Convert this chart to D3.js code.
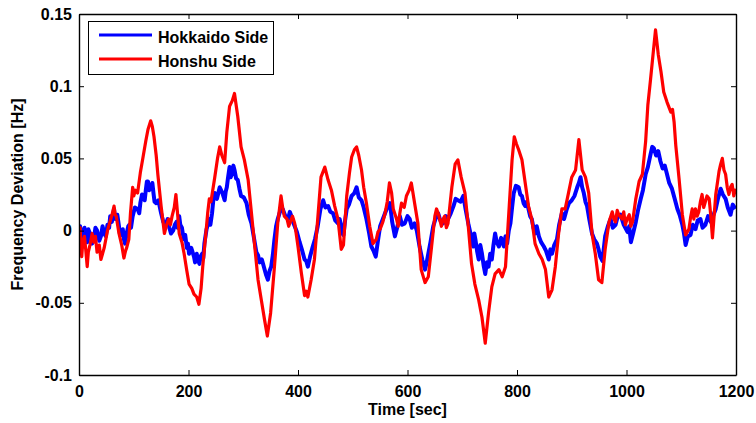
<!DOCTYPE html>
<html>
<head>
<meta charset="utf-8">
<script src="https://cdn.jsdelivr.net/npm/d3@7"></script>
<style>
  html, body { margin: 0; padding: 0; background: #fff; }
  svg { display: block; }
  text { font-family: "Liberation Sans", Arial, sans-serif; font-weight: bold; font-size: 16px; fill: #000; }
</style>
</head>
<body>
<svg id="chart" width="756" height="423"></svg>
<script>
// Time axis ticks and frequency axis ticks
const xTicks = [0, 200, 400, 600, 800, 1000, 1200];
const yTicks = [-0.1, -0.05, 0, 0.05, 0.1, 0.15];

// Hokkaido side: [time sec, frequency deviation Hz]
const hokkaidoSamples = [[0,-0.003],[2,0.003],[5,-0.010],[7,-0.002],[10,0.002],[12,-0.006],[15,-0.008],[17,0.001],[20,-0.002],[24,-0.009],[27,-0.006],[30,0.002],[33,0.000],[37,-0.007],[40,-0.004],[43,0.003],[46,-0.002],[49,-0.004],[52,0.004],[55,0.002],[57,0.010],[60,0.006],[64,0.015],[66,0.008],[68,0.008],[70,0.011],[73,0.003],[75,-0.003],[78,-0.003],[80,0.001],[82,-0.006],[84,-0.009],[87,-0.002],[90,0.003],[92,0.004],[95,0.002],[98,0.010],[102,0.016],[107,0.015],[110,0.012],[112,0.019],[115,0.025],[117,0.024],[120,0.021],[122,0.028],[124,0.034],[126,0.034],[128,0.028],[131,0.030],[134,0.033],[136,0.026],[138,0.020],[141,0.019],[145,0.021],[150,0.012],[154,0.006],[159,0.005],[162,0.008],[165,0.002],[168,-0.002],[172,0.000],[175,0.004],[178,0.006],[180,0.002],[183,0.010],[185,0.004],[188,0.002],[190,-0.003],[192,-0.006],[194,-0.003],[197,-0.012],[199,-0.009],[201,-0.016],[205,-0.012],[210,-0.018],[212,-0.022],[215,-0.016],[217,-0.020],[220,-0.023],[222,-0.018],[225,-0.016],[227,-0.019],[229,-0.009],[233,0.001],[238,0.008],[240,0.004],[243,0.012],[245,0.020],[248,0.026],[252,0.022],[257,0.030],[262,0.026],[266,0.021],[268,0.027],[270,0.030],[272,0.036],[275,0.044],[277,0.037],[280,0.040],[282,0.045],[284,0.042],[287,0.036],[290,0.035],[293,0.029],[296,0.024],[301,0.023],[306,0.019],[310,0.011],[315,0.005],[320,-0.006],[324,-0.015],[327,-0.017],[330,-0.022],[334,-0.020],[339,-0.027],[342,-0.031],[345,-0.034],[348,-0.028],[351,-0.025],[354,-0.017],[357,-0.006],[360,0.003],[363,0.008],[367,0.013],[372,0.015],[377,0.010],[382,0.008],[385,0.013],[388,0.010],[391,0.006],[394,0.003],[398,-0.001],[403,-0.008],[407,-0.013],[412,-0.020],[415,-0.021],[418,-0.025],[422,-0.018],[427,-0.011],[431,-0.006],[436,0.003],[441,0.015],[446,0.021],[450,0.016],[455,0.017],[459,0.013],[464,0.012],[468,0.007],[473,0.005],[476,0.008],[479,0.003],[481,-0.002],[483,-0.003],[486,0.007],[489,0.015],[493,0.018],[498,0.024],[503,0.026],[507,0.030],[511,0.023],[516,0.021],[520,0.016],[525,0.008],[530,-0.002],[534,-0.011],[538,-0.014],[542,-0.018],[546,-0.007],[550,0.003],[555,0.008],[559,0.012],[563,0.016],[568,0.019],[572,0.006],[577,-0.004],[581,0.002],[586,0.010],[590,0.004],[595,0.005],[600,0.010],[604,0.008],[608,0.002],[613,0.005],[617,0.000],[622,-0.011],[627,-0.020],[632,-0.027],[635,-0.022],[638,-0.016],[642,-0.008],[647,0.003],[651,0.008],[656,0.012],[660,0.007],[665,0.005],[670,0.010],[674,0.008],[679,0.012],[684,0.017],[688,0.022],[692,0.021],[697,0.020],[702,0.024],[706,0.015],[711,0.005],[715,-0.002],[720,-0.011],[722,-0.002],[724,-0.006],[727,-0.014],[730,-0.020],[733,-0.010],[736,-0.016],[739,-0.024],[742,-0.030],[745,-0.022],[748,-0.025],[751,-0.016],[754,-0.020],[757,-0.010],[760,-0.002],[763,-0.008],[767,-0.011],[771,-0.005],[776,-0.011],[779,-0.004],[782,-0.009],[785,0.000],[788,0.005],[791,0.016],[794,0.026],[798,0.031],[803,0.030],[806,0.025],[809,0.024],[812,0.019],[815,0.017],[818,0.020],[821,0.015],[824,0.010],[827,0.008],[830,0.002],[833,-0.002],[836,0.003],[840,-0.004],[844,-0.008],[849,-0.011],[853,-0.014],[858,-0.020],[861,-0.013],[864,-0.016],[868,-0.010],[873,-0.006],[877,0.004],[882,0.012],[886,0.008],[891,0.015],[895,0.019],[900,0.021],[905,0.024],[910,0.030],[913,0.033],[916,0.037],[919,0.030],[922,0.026],[925,0.020],[928,0.017],[932,0.008],[937,-0.002],[941,-0.006],[946,-0.009],[949,-0.013],[952,-0.018],[956,-0.021],[961,-0.004],[966,0.003],[971,0.008],[975,0.002],[980,0.004],[984,0.010],[989,0.011],[995,0.004],[1002,-0.001],[1005,0.003],[1008,-0.008],[1012,-0.002],[1017,0.006],[1021,0.014],[1026,0.022],[1030,0.028],[1035,0.039],[1039,0.044],[1044,0.053],[1047,0.058],[1050,0.057],[1054,0.052],[1058,0.055],[1062,0.048],[1066,0.043],[1070,0.045],[1074,0.039],[1078,0.033],[1083,0.029],[1088,0.022],[1093,0.015],[1097,0.011],[1102,0.004],[1105,-0.002],[1108,-0.010],[1112,-0.004],[1117,-0.003],[1121,0.004],[1126,0.001],[1130,0.007],[1135,0.008],[1139,0.002],[1144,0.004],[1149,0.010],[1154,0.006],[1158,0.010],[1163,0.015],[1167,0.022],[1172,0.029],[1176,0.025],[1181,0.022],[1185,0.016],[1190,0.011],[1194,0.018],[1199,0.015]];

// Honshu side: [time sec, frequency deviation Hz]
const honshuSamples = [[0,-0.005],[2,0.002],[5,-0.018],[7,-0.008],[10,-0.004],[12,-0.012],[15,-0.025],[17,-0.015],[20,-0.010],[24,-0.002],[27,-0.008],[30,-0.004],[33,-0.015],[37,-0.010],[40,-0.020],[43,-0.016],[46,-0.012],[52,0.000],[55,0.004],[58,0.008],[61,0.012],[64,0.017],[66,0.011],[68,0.010],[73,-0.002],[78,-0.010],[82,-0.019],[85,-0.014],[87,-0.012],[91,-0.006],[94,0.012],[98,0.030],[100,0.024],[103,0.028],[107,0.026],[112,0.040],[117,0.051],[122,0.062],[126,0.070],[131,0.076],[134,0.072],[137,0.065],[141,0.052],[144,0.039],[150,0.017],[156,-0.002],[160,0.004],[164,0.008],[167,0.004],[170,0.010],[174,0.016],[177,0.025],[180,0.012],[183,-0.002],[188,-0.008],[192,-0.016],[197,-0.028],[201,-0.037],[206,-0.040],[210,-0.044],[215,-0.046],[219,-0.051],[223,-0.040],[226,-0.025],[231,-0.005],[235,0.012],[238,0.022],[241,0.020],[248,0.037],[253,0.050],[257,0.058],[261,0.052],[266,0.047],[270,0.068],[275,0.086],[280,0.090],[284,0.095],[290,0.079],[296,0.058],[302,0.049],[309,0.035],[315,0.012],[321,-0.011],[327,-0.034],[333,-0.048],[339,-0.062],[344,-0.073],[350,-0.057],[357,-0.025],[363,0.005],[369,0.024],[372,0.016],[375,0.010],[380,0.008],[383,0.003],[385,0.005],[390,0.010],[394,0.005],[400,-0.011],[406,-0.029],[412,-0.045],[415,-0.042],[418,-0.046],[424,-0.034],[430,-0.020],[436,0.008],[442,0.037],[449,0.044],[455,0.035],[461,0.028],[467,0.017],[473,0.008],[479,-0.013],[483,-0.010],[489,0.024],[494,0.040],[498,0.051],[503,0.056],[507,0.058],[511,0.052],[516,0.042],[520,0.030],[525,0.019],[531,0.003],[537,-0.009],[543,-0.006],[546,-0.001],[550,0.001],[555,0.006],[559,0.012],[563,0.020],[567,0.033],[571,0.026],[574,0.015],[580,0.008],[583,0.003],[586,0.012],[589,0.019],[594,0.016],[598,0.024],[603,0.028],[607,0.033],[610,0.026],[613,0.019],[619,0.005],[625,-0.027],[632,-0.036],[638,-0.032],[644,-0.011],[650,0.010],[653,0.015],[656,0.012],[662,0.003],[665,0.008],[668,0.010],[671,0.002],[674,0.005],[681,0.030],[687,0.046],[692,0.049],[698,0.037],[705,0.026],[711,0.003],[717,-0.023],[723,-0.037],[730,-0.048],[736,-0.060],[742,-0.078],[748,-0.057],[754,-0.039],[760,-0.030],[767,-0.027],[773,-0.032],[779,-0.025],[785,0.012],[791,0.049],[795,0.065],[799,0.060],[803,0.056],[809,0.049],[815,0.033],[821,0.017],[827,0.008],[833,-0.009],[840,-0.016],[846,-0.020],[852,-0.027],[858,-0.046],[864,-0.041],[870,-0.025],[876,-0.002],[882,0.015],[888,0.015],[894,0.026],[900,0.037],[907,0.042],[913,0.063],[919,0.042],[925,0.037],[931,0.026],[937,-0.002],[943,-0.016],[949,-0.034],[955,-0.036],[961,-0.013],[968,0.006],[974,0.013],[977,0.008],[980,0.006],[983,0.014],[986,0.011],[992,0.008],[995,0.013],[998,0.004],[1001,0.008],[1005,0.011],[1008,0.003],[1011,0.006],[1017,0.022],[1023,0.034],[1029,0.039],[1035,0.062],[1039,0.087],[1044,0.105],[1049,0.124],[1053,0.139],[1058,0.122],[1063,0.110],[1068,0.096],[1074,0.089],[1081,0.082],[1084,0.084],[1087,0.075],[1090,0.059],[1096,0.036],[1102,0.011],[1108,-0.003],[1114,0.001],[1117,0.009],[1120,0.015],[1123,0.008],[1126,0.015],[1129,0.010],[1132,0.013],[1135,0.020],[1138,0.025],[1141,0.016],[1144,0.020],[1147,0.024],[1151,0.022],[1154,0.010],[1157,-0.005],[1160,0.010],[1163,0.025],[1166,0.033],[1169,0.041],[1172,0.046],[1175,0.050],[1178,0.042],[1181,0.039],[1184,0.030],[1187,0.025],[1190,0.030],[1193,0.032],[1196,0.024],[1199,0.029]];

const seriesNames = ["Hokkaido Side", "Honshu Side"];
const seriesColors = ["#0000ff", "#ff0000"];

const svg = d3.select("#chart");
const plot = { left: 79, right: 736, top: 14, bottom: 375 };

const x = d3.scaleLinear().domain([0, 1200]).range([plot.left, plot.right]);
const y = d3.scaleLinear().domain([-0.1, 0.15]).range([plot.bottom, plot.top]);

const series = [
  { name: seriesNames[0], color: seriesColors[0], width: 4, points: hokkaidoSamples },
  { name: seriesNames[1], color: seriesColors[1], width: 3.2, points: honshuSamples }
];

svg.append("defs").append("clipPath").attr("id", "plot-clip")
  .append("rect").attr("x", plot.left).attr("y", plot.top)
  .attr("width", plot.right - plot.left).attr("height", plot.bottom - plot.top);

const line = d3.line().x(d => x(d[0])).y(d => y(d[1]));

svg.append("g").attr("clip-path", "url(#plot-clip)")
  .selectAll("path").data(series).join("path")
  .attr("d", d => line(d.points))
  .attr("fill", "none")
  .attr("stroke", d => d.color)
  .attr("stroke-width", d => d.width)
  .attr("stroke-linejoin", "round");

// Axes with inward ticks on all four sides
const fmt = d => String(d);
function styleAxis(g) {
  g.attr("font-family", null).attr("font-size", null);
  g.select(".domain").attr("stroke", "#000").attr("stroke-width", 1.4);
  g.selectAll(".tick line").attr("stroke", "#000").attr("stroke-width", 1);
}

svg.append("g").attr("transform", `translate(0,${plot.bottom})`)
  .call(d3.axisBottom(x).tickValues(xTicks).tickFormat(fmt).tickSize(-5).tickSizeOuter(0).tickPadding(11))
  .call(styleAxis);
svg.append("g").attr("transform", `translate(0,${plot.top})`)
  .call(d3.axisTop(x).tickValues(xTicks).tickFormat("").tickSize(-5).tickSizeOuter(0))
  .call(styleAxis);
svg.append("g").attr("transform", `translate(${plot.left},0)`)
  .call(d3.axisLeft(y).tickValues(yTicks).tickFormat(fmt).tickSize(-5).tickSizeOuter(0).tickPadding(7))
  .call(styleAxis);
svg.append("g").attr("transform", `translate(${plot.right},0)`)
  .call(d3.axisRight(y).tickValues(yTicks).tickFormat("").tickSize(-5).tickSizeOuter(0))
  .call(styleAxis);

// Axis titles
svg.append("text").attr("x", (plot.left + plot.right) / 2).attr("y", 415)
  .attr("text-anchor", "middle").text("Time [sec]");
svg.append("text").attr("transform", `translate(23,${(plot.top + plot.bottom) / 2}) rotate(-90)`)
  .attr("text-anchor", "middle").text("Frequency Deviation [Hz]");

// Legend
const legend = svg.append("g");
legend.append("rect").attr("x", 88.5).attr("y", 21.5).attr("width", 185).attr("height", 53)
  .attr("fill", "#fff").attr("stroke", "#000").attr("stroke-width", 1);
series.forEach((s, i) => {
  const ly = 35 + i * 24;
  legend.append("line").attr("x1", 99).attr("x2", 152).attr("y1", ly).attr("y2", ly)
    .attr("stroke", s.color).attr("stroke-width", 3);
  legend.append("text").attr("x", 158).attr("y", ly + 8).text(s.name);
});
</script>
</body>
</html>
